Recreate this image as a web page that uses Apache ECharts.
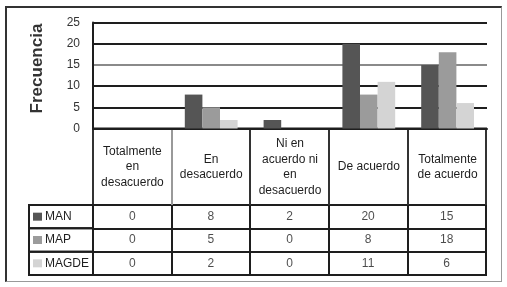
<!DOCTYPE html>
<html>
<head>
<meta charset="utf-8">
<script src="https://cdn.jsdelivr.net/npm/echarts@6/dist/echarts.min.js"></script>
<style>
  body { margin: 0; background: #fff; }
  #chart { width: 507px; height: 287px; }
  #frame {
    position: absolute; left: 5px; top: 6px; width: 494px; height: 273px;
    border-left: 2px solid #333; border-top: 2px solid #333;
    border-right: 1px solid #999; border-bottom: 1px solid #999;
    pointer-events: none;
  }
</style>
</head>
<body>
<div id="chart"></div>
<div id="frame"></div>
<script>
const categories = ['Totalmente\nen\ndesacuerdo', 'En\ndesacuerdo', 'Ni en\nacuerdo ni\nen\ndesacuerdo', 'De acuerdo', 'Totalmente\nde acuerdo']
const seriesNames = ['MAN', 'MAP', 'MAGDE']
const manValues = [0, 8, 2, 20, 15]
const mapValues = [0, 5, 0, 8, 18]
const magdeValues = [0, 2, 0, 11, 6]
const yMin = 0
const yMax = 25
const yStep = 5

const colors = ['#555555', '#9b9b9b', '#d4d4d4']
const allValues = [manValues, mapValues, magdeValues]
const font = 'Liberation Sans, Arial, sans-serif'
const ink = '#1e1e1e'

// table cells: [category index, series index, value]
const cellData = []
allValues.forEach((vals, si) => {
  vals.forEach((v, ci) => cellData.push([ci, si, v]))
})

const rich = { n: { fontFamily: font, fontSize: 12, color: ink, padding: [0, 0, 0, 3] } }
seriesNames.forEach((name, i) => {
  rich['s' + i] = { width: 9, height: 8, backgroundColor: colors[i] }
})

const chart = echarts.init(document.getElementById('chart'))
chart.setOption({
  animation: false,
  textStyle: { fontFamily: font },
  grid: [
    { left: 93, right: 20, top: 22.5, height: 106 },
    { left: 93, right: 21, top: 128.5, height: 76.5, show: true, borderColor: ink, borderWidth: 2 },
    { left: 93, right: 21, top: 205, height: 70, show: true, borderColor: ink, borderWidth: 2 }
  ],
  xAxis: [
    {
      type: 'category', gridIndex: 0, data: categories,
      axisLine: { lineStyle: { color: ink, width: 2 } },
      axisTick: { show: false },
      axisLabel: {
        interval: 0, margin: 38.5, verticalAlign: 'middle',
        fontSize: 12, lineHeight: 15.5, color: ink, fontFamily: font
      }
    },
    {
      type: 'category', gridIndex: 1, data: categories,
      axisLine: { show: false }, axisTick: { show: false },
      axisLabel: { show: false, interval: 0 },
      splitLine: { show: true, interval: 0, lineStyle: { color: ['#333', '#999', '#333', '#333', '#333', '#333'], width: 2 } }
    },
    {
      type: 'category', gridIndex: 2, data: categories,
      axisLine: { show: false }, axisTick: { show: false },
      axisLabel: { show: false, interval: 0 },
      splitLine: { show: true, interval: 0, lineStyle: { color: ink, width: 2 } }
    }
  ],
  yAxis: [
    {
      type: 'value', gridIndex: 0, min: yMin, max: yMax, interval: yStep,
      name: 'Frecuencia', nameLocation: 'middle', nameGap: 47, nameRotate: 90,
      nameTextStyle: { fontSize: 17, fontWeight: 'bold', color: '#333', fontFamily: font, padding: [0, 0, 0, 14] },
      axisLine: { show: true, lineStyle: { color: ink, width: 2 } },
      axisTick: { show: false },
      axisLabel: { margin: 13, fontSize: 12, color: '#333', fontFamily: font },
      splitLine: { lineStyle: { color: [ink, ink, ink, '#8a8a8a', ink, ink], width: 2 } }
    },
    { type: 'value', gridIndex: 1, show: false },
    {
      type: 'category', gridIndex: 2, data: seriesNames, inverse: true,
      axisLine: { show: false }, axisTick: { show: false },
      splitLine: { show: true, interval: 0, lineStyle: { color: ink, width: 2 } },
      axisLabel: {
        interval: 0, hideOverlap: false,
        margin: 64, align: 'left', verticalAlign: 'middle',
        width: 60, lineHeight: 23.3, padding: [0, 0, 0, 4],
        borderColor: ink, borderWidth: 2,
        formatter: (v, i) => '{s' + i + '|}{n|' + v + '}',
        rich: rich
      }
    }
  ],
  series: seriesNames.map((name, i) => ({
    name: name,
    type: 'bar',
    xAxisIndex: 0,
    yAxisIndex: 0,
    data: allValues[i],
    barGap: 0,
    barCategoryGap: '33%',
    itemStyle: { color: colors[i] }
  })).concat([{
    type: 'scatter',
    xAxisIndex: 2,
    yAxisIndex: 2,
    data: cellData,
    symbolSize: 1,
    itemStyle: { color: 'transparent' },
    label: {
      show: true, position: 'inside',
      fontSize: 12, color: ink, fontFamily: font,
      formatter: p => String(p.data[2])
    }
  }])
})
</script>
</body>
</html>
